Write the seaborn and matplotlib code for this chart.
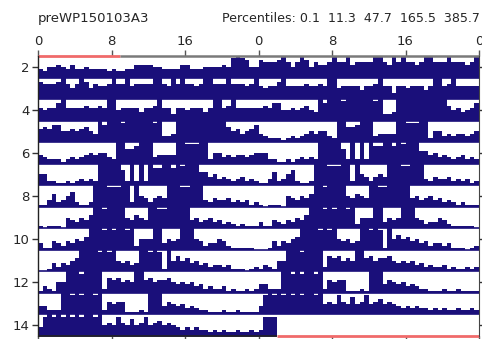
import numpy as np
import pandas as pd
import matplotlib
matplotlib.use("Agg")
import matplotlib.pyplot as plt
import seaborn as sns

# ---- data: activity per 30-min bin (0-10 = fraction of row height), one list per day
day01 = [4,3,5,5,6,5,4,6,4,4,5,4,4,4,4,3,4,3,3,4,4,6,6,6,6,5,5,4,4,4,4,6,6,4,4,4,5,5,5,5,6,5,9,10,9,8,5,5]
day02 = [8,7,7,7,8,10,7,5,7,10,8,5,7,6,6,7,10,7,7,10,6,7,7,7,7,10,10,7,6,10,7,10,7,7,6,7,10,10,7,7,7,10,7,7,7,6,7,10]
day03 = [6,5,6,6,8,10,6,6,6,6,7,6,6,7,6,10,10,5,6,6,6,6,4,6,6,7,10,6,6,3,6,6,5,6,6,6,4,6,10,10,6,7,10,6,6,6,6,6]
day04 = [6,7,6,8,8,5,5,6,5,6,7,5,4,10,8,10,10,10,9,10,10,10,10,10,10,9,10,3,3,4,10,10,10,10,10,10,10,10,10,10,10,7,5,6,4,5,6,8]
day05 = [4,3,2,2,2,1,2,3,2,3,4,5,4,5,5,3,2,10,10,7,7,8,10,10,10,3,4,4,4,4,10,10,9,9,9,10,10,2,5,5,3,4,3,4,4,3,4,5]
day06 = [5,5,2,2,1,1,2,1,2,3,2,3,2,10,10,10,10,10,7,2,10,2,10,2,10,8,8,10,10,8,10,9,10,10,10,6,6,4,5,3,4,3,2,3,4,2,3,2]
day07 = [1,1,3,6,2,3,5,7,2,1,1,2,10,10,10,9,9,9,10,10,2,10,5,4,2,4,5,4,10,10,10,9,9,10,10,10,3,2,4,3,3,4,2,3,2,3,1,2]
day08 = [1,0,1,1,1,0,5,4,3,5,4,6,10,10,9,10,10,10,10,5,4,6,5,4,10,10,9,9,10,10,10,10,10,4,5,3,4,5,3,4,2,3,2,1,2,1,1,1]
day09 = [3,1,1,4,3,2,4,3,5,4,6,10,10,10,9,10,9,10,10,9,10,2,5,5,5,10,10,3,5,4,5,10,10,10,5,4,2,3,3,5,4,2,1,1,1,1,1,0]
day10 = [0,0,1,4,2,4,3,5,6,10,10,10,10,9,10,9,10,5,4,5,3,4,10,10,9,10,9,1,10,5,7,5,6,4,5,3,4,2,3,3,2,3,1,1,1,0,1,2]
day11 = [1,3,2,1,5,5,10,10,10,9,10,10,10,10,2,7,6,7,5,6,5,10,10,6,7,5,6,6,7,5,4,5,4,5,3,4,2,3,2,2,3,1,2,1,1,2,1,2]
day12 = [4,4,2,2,2,10,10,9,10,9,10,10,9,10,2,6,5,6,6,1,1,1,2,1,10,10,10,4,6,5,4,5,3,4,3,2,2,1,1,1,2,1,1,2,1,1,1,1]
day13 = [4,9,10,9,10,9,10,9,10,9,10,10,9,10,5,6,5,9,6,5,8,5,6,9,5,6,7,5,6,5,4,3,4,3,4,3,3,2,3,2,3,2,2,3,2,2,3,2]
day14 = [3,9,9,9]

days = [day01, day02, day03, day04, day05, day06, day07, day08,
        day09, day10, day11, day12, day13, day14]

x_tick_labels = ["0", "8", "16", "0", "8", "16", "0"]
y_tick_labels = ["2", "4", "6", "8", "10", "12", "14"]
title_left = "preWP150103A3"
title_right = "Percentiles: 0.1  11.3  47.7  165.5  385.7"

# ---- style
sns.set_style("white")
plt.rcParams['font.family'] = ['DejaVu Sans']

NAVY = "#1a0f7a"
RED = "#f06a6a"
BIN_H = 0.5
n_rows = len(days) - 1

W_PX, H_PX = 482, 339
fig = plt.figure(figsize=(W_PX / 100, H_PX / 100), dpi=100)

L = 38 / W_PX
R = 479 / W_PX
T = 1 - 56 / H_PX
B = 1 - 336 / H_PX
AW, AH = R - L, T - B

for k in range(n_rows):
    first, second = days[k], days[k + 1]
    t = np.concatenate([np.arange(len(first)) * BIN_H + BIN_H / 2,
                        24 + np.arange(len(second)) * BIN_H + BIN_H / 2])
    v = np.concatenate([first, second]).astype(float)
    df = pd.DataFrame({"t": t, "v": v})
    rax = fig.add_axes([L, B + AH * (n_rows - 1 - k) / n_rows, AW, AH / n_rows])
    sns.histplot(data=df, x="t", weights="v", binwidth=BIN_H, binrange=(0, 48),
                 element="step", fill=True, color=NAVY, alpha=1, linewidth=0, ax=rax)
    rax.set_xlim(0, 48)
    rax.set_ylim(0, 10)
    rax.axis("off")
    end = 24 + len(second) * BIN_H
    rax.plot([0, end], [0, 0], color=NAVY, lw=1.2, clip_on=False,
             solid_capstyle="butt")

ax = fig.add_axes([L, B, AW, AH])
ax.set_zorder(10)
ax.patch.set_alpha(0)
ax.set_xlim(0, 48)
ax.set_ylim(n_rows, 0)
ax.set_xticks(np.arange(0, 49, 8))
ax.set_xticklabels(x_tick_labels)
ax.set_yticks([int(s) - 1.5 for s in y_tick_labels])
ax.set_yticklabels(y_tick_labels)
ax.tick_params(axis="x", top=True, bottom=True, labeltop=True, labelbottom=False,
               length=4, width=1, color="#555555", labelsize=9.5, pad=2)
ax.tick_params(axis="y", left=True, right=True, labelleft=True, length=4,
               width=1, color="#333333", labelsize=9.5, pad=2)
for s in ["top", "bottom"]:
    ax.spines[s].set_visible(False)
ax.spines["left"].set_color("#222222")
ax.spines["right"].set_color("#444444")
ax.spines["left"].set_linewidth(1)
ax.spines["right"].set_linewidth(0.8)

data_end = 24 + len(days[-1]) * BIN_H
ax.plot([0, 8.9], [0, 0], color=RED, lw=2, clip_on=False, solid_capstyle="butt")
ax.plot([8.9, 48], [0, 0], color="#7a7a7a", lw=1.8, clip_on=False, solid_capstyle="butt")
ax.plot([0, data_end], [n_rows, n_rows], color="#222222", lw=1.2, clip_on=False,
        solid_capstyle="butt")
ax.plot([data_end, 48], [n_rows, n_rows], color=RED, lw=2, clip_on=False,
        solid_capstyle="butt")

fig.text(L, 1 - 22 / H_PX, title_left, ha="left", va="baseline", fontsize=9.5)
fig.text(480 / W_PX, 1 - 22 / H_PX, title_right, ha="right", va="baseline", fontsize=9.1)

fig.savefig("out.png", dpi=100)
